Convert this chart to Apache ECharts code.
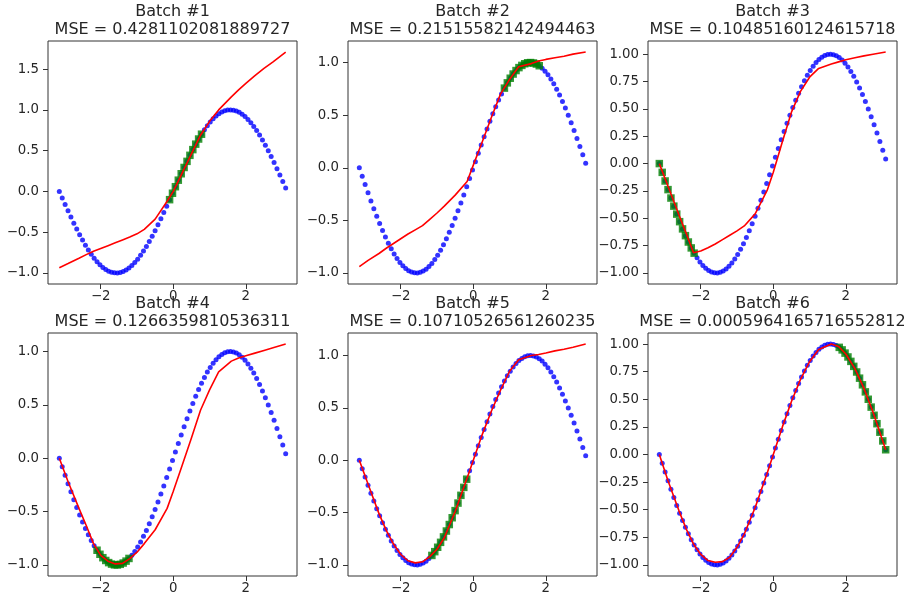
<!DOCTYPE html>
<html>
<head>
<meta charset="utf-8">
<script src="https://cdn.jsdelivr.net/npm/echarts@6/dist/echarts.min.js"></script>
<style>
  html, body { margin: 0; padding: 0; background: #ffffff; }
  #chart { width: 904px; height: 601px; }
</style>
</head>
<body>
<div id="chart"></div>
<script>
// Training samples of the target curve
const sampleX = [
  -3.142, -3.062, -2.982, -2.902, -2.822, -2.742, -2.662, -2.582, -2.502, -2.422,
  -2.342, -2.262, -2.182, -2.102, -2.022, -1.942, -1.862, -1.782, -1.702, -1.622,
  -1.542, -1.462, -1.382, -1.302, -1.222, -1.142, -1.062, -0.982, -0.902, -0.822,
  -0.742, -0.662, -0.582, -0.502, -0.422, -0.342, -0.262, -0.182, -0.102, -0.022,
  0.058, 0.138, 0.218, 0.298, 0.378, 0.458, 0.538, 0.618, 0.698, 0.778,
  0.858, 0.938, 1.018, 1.098, 1.178, 1.258, 1.338, 1.418, 1.498, 1.578,
  1.658, 1.738, 1.818, 1.898, 1.978, 2.058, 2.138, 2.218, 2.298, 2.378,
  2.458, 2.538, 2.618, 2.698, 2.778, 2.858, 2.938, 3.018, 3.098
];
const sampleY = [
  0.000, -0.080, -0.159, -0.238, -0.315, -0.389, -0.462, -0.531, -0.597, -0.659,
  -0.717, -0.771, -0.819, -0.862, -0.900, -0.932, -0.958, -0.978, -0.992, -0.999,
  -1.000, -0.994, -0.982, -0.964, -0.939, -0.909, -0.873, -0.831, -0.784, -0.732,
  -0.676, -0.614, -0.549, -0.481, -0.409, -0.335, -0.259, -0.181, -0.101, -0.022,
  0.058, 0.138, 0.217, 0.294, 0.369, 0.443, 0.513, 0.580, 0.643, 0.702,
  0.757, 0.807, 0.851, 0.891, 0.924, 0.952, 0.973, 0.989, 0.998, 1.000,
  0.996, 0.986, 0.970, 0.947, 0.918, 0.883, 0.843, 0.798, 0.747, 0.691,
  0.631, 0.567, 0.500, 0.429, 0.355, 0.279, 0.202, 0.123, 0.043
];

// Model prediction after each batch, sampled along x
const predX = [-3.142, -2.9, -2.6, -2.4, -2.2, -2.0, -1.8, -1.6, -1.4, -1.2, -1.0, -0.8, -0.5, -0.17,
  0.0, 0.25, 0.5, 0.75, 1.0, 1.25, 1.6, 1.8, 2.0, 2.25, 2.5, 2.75, 3.098];
const pred1 = [-0.935, -0.885, -0.82, -0.775, -0.735, -0.70, -0.665, -0.63, -0.595, -0.56, -0.52, -0.465, -0.34, -0.12,
  0.0, 0.23, 0.46, 0.69, 0.86, 1.0, 1.16, 1.245, 1.325, 1.42, 1.51, 1.59, 1.71];
const pred2 = [-0.94, -0.88, -0.815, -0.765, -0.72, -0.675, -0.63, -0.59, -0.55, -0.49, -0.43, -0.365, -0.26, -0.13,
  0.025, 0.25, 0.48, 0.70, 0.84, 0.96, 0.99, 1.015, 1.03, 1.045, 1.06, 1.08, 1.10];
const pred3 = [0.0, -0.21, -0.47, -0.64, -0.815, -0.80, -0.77, -0.735, -0.695, -0.655, -0.615, -0.57, -0.46, -0.245,
  -0.08, 0.20, 0.47, 0.66, 0.79, 0.87, 0.91, 0.93, 0.95, 0.968, 0.985, 1.0, 1.02];
const pred4 = [0.0, -0.22, -0.47, -0.63, -0.80, -0.91, -0.965, -0.99, -0.985, -0.94, -0.88, -0.80, -0.67, -0.47,
  -0.31, -0.06, 0.19, 0.45, 0.64, 0.81, 0.91, 0.94, 0.96, 0.985, 1.01, 1.035, 1.07];
const pred5 = [0.0, -0.23, -0.51, -0.67, -0.80, -0.90, -0.96, -0.98, -0.97, -0.92, -0.85, -0.74, -0.49, -0.17,
  0.0, 0.25, 0.47, 0.67, 0.85, 0.96, 1.0, 1.01, 1.025, 1.045, 1.06, 1.08, 1.11];
const pred6 = [0.0, -0.24, -0.51, -0.675, -0.81, -0.905, -0.96, -0.975, -0.97, -0.93, -0.84, -0.72, -0.48, -0.17,
  0.0, 0.25, 0.48, 0.68, 0.84, 0.95, 1.0, 0.978, 0.91, 0.778, 0.598, 0.382, 0.043];
const predictions = [pred1, pred2, pred3, pred4, pred5, pred6];

// Which samples formed each batch (inclusive index range)
const batchFirst = [38, 50, 0, 13, 25, 62];
const batchLast = [49, 62, 12, 24, 37, 78];

const batchNames = ['Batch #1', 'Batch #2', 'Batch #3', 'Batch #4', 'Batch #5', 'Batch #6'];
const mseTexts = [
  'MSE = 0.4281102081889727',
  'MSE = 0.21515582142494463',
  'MSE = 0.10485160124615718',
  'MSE = 0.1266359810536311',
  'MSE = 0.10710526561260235',
  'MSE = 0.0005964165716552812'
];

// Tick labels
const xTicks = [-2, 0, 2];
const yTicksWide = [-1, -0.5, 0, 0.5, 1, 1.5];
const yTicksHalf = [-1, -0.5, 0, 0.5, 1];
const yTicksQuarter = [-1, -0.75, -0.5, -0.25, 0, 0.25, 0.5, 0.75, 1];
const yTickSets = [yTicksWide, yTicksHalf, yTicksQuarter, yTicksHalf, yTicksHalf, yTicksQuarter];
const yTickDecimals = [1, 1, 2, 1, 1, 2];

// Layout of the 2 x 3 panel grid
const panelLefts = [48, 348, 648];
const panelTops = [41, 333];
const panelW = 249;
const panelH = 243;

const FONT = '"DejaVu Sans", "Liberation Sans", sans-serif';
const INK = '#262626';

function fmt(v, d) {
  const s = Math.abs(v).toFixed(d);
  return (v < -1e-9 ? '\u2212' : '') + s;
}

function padRange(lo, hi) {
  const r = hi - lo;
  return [lo - 0.05 * r, hi + 0.05 * r];
}

const allX = sampleX.concat(predX);
const [xMin, xMax] = padRange(Math.min(...allX), Math.max(...allX));

const grids = [], xAxes = [], yAxes = [], series = [], graphics = [];

for (let p = 0; p < 6; p++) {
  const col = p % 3, row = Math.floor(p / 3);
  const left = panelLefts[col], top = panelTops[row];
  grids.push({
    left: left, top: top, width: panelW, height: panelH,
    show: true, borderColor: '#333333', borderWidth: 1, backgroundColor: 'transparent'
  });

  const pred = predictions[p];
  const allY = sampleY.concat(pred);
  const [yMin, yMax] = padRange(Math.min(...allY), Math.max(...allY));
  const dec = yTickDecimals[p];

  xAxes.push({
    type: 'value', gridIndex: p, min: xMin, max: xMax, position: 'bottom',
    axisLine: { show: false, onZero: false },
    splitLine: { show: false },
    axisTick: { show: true, customValues: xTicks, length: 5, lineStyle: { color: '#333333', width: 1 } },
    axisLabel: {
      show: true, customValues: xTicks, margin: 6,
      fontFamily: FONT, fontSize: 13.3, color: INK,
      formatter: v => fmt(v, 0)
    }
  });
  yAxes.push({
    type: 'value', gridIndex: p, min: yMin, max: yMax, position: 'left',
    axisLine: { show: false, onZero: false },
    splitLine: { show: false },
    axisTick: { show: true, customValues: yTickSets[p], length: 5, lineStyle: { color: '#333333', width: 1 } },
    axisLabel: {
      show: true, customValues: yTickSets[p], margin: 9,
      fontFamily: FONT, fontSize: 13.3, color: INK,
      formatter: v => fmt(v, dec)
    }
  });

  series.push({
    type: 'scatter', xAxisIndex: p, yAxisIndex: p, z: 2,
    symbol: 'circle', symbolSize: 5,
    itemStyle: { color: '#0000ff' },
    data: sampleX.map((x, i) => [x, sampleY[i]]),
    silent: true
  });
  const batchPts = [];
  for (let i = batchFirst[p]; i <= batchLast[p]; i++) batchPts.push([sampleX[i], sampleY[i]]);
  series.push({
    type: 'scatter', xAxisIndex: p, yAxisIndex: p, z: 3,
    symbol: 'rect', symbolSize: 7.5,
    itemStyle: { color: '#008000' },
    data: batchPts,
    silent: true
  });
  series.push({
    type: 'line', xAxisIndex: p, yAxisIndex: p, z: 4,
    showSymbol: false, symbol: 'none',
    lineStyle: { color: '#ff0000', width: 1.6 },
    data: predX.map((x, i) => [x, pred[i]]),
    silent: true
  });

  const cx = left + panelW / 2;
  graphics.push({
    type: 'text', x: cx, y: top - 29.5,
    style: { text: batchNames[p], font: '16px ' + FONT, fill: INK, textAlign: 'center', textVerticalAlign: 'middle' }
  });
  graphics.push({
    type: 'text', x: cx, y: top - 11,
    style: { text: mseTexts[p], font: '16px ' + FONT, fill: INK, textAlign: 'center', textVerticalAlign: 'middle' }
  });
}

const chart = echarts.init(document.getElementById('chart'), null, { renderer: 'canvas' });
chart.setOption({
  animation: false,
  backgroundColor: '#ffffff',
  grid: grids,
  xAxis: xAxes,
  yAxis: yAxes,
  series: series,
  graphic: graphics
});
</script>
</body>
</html>
